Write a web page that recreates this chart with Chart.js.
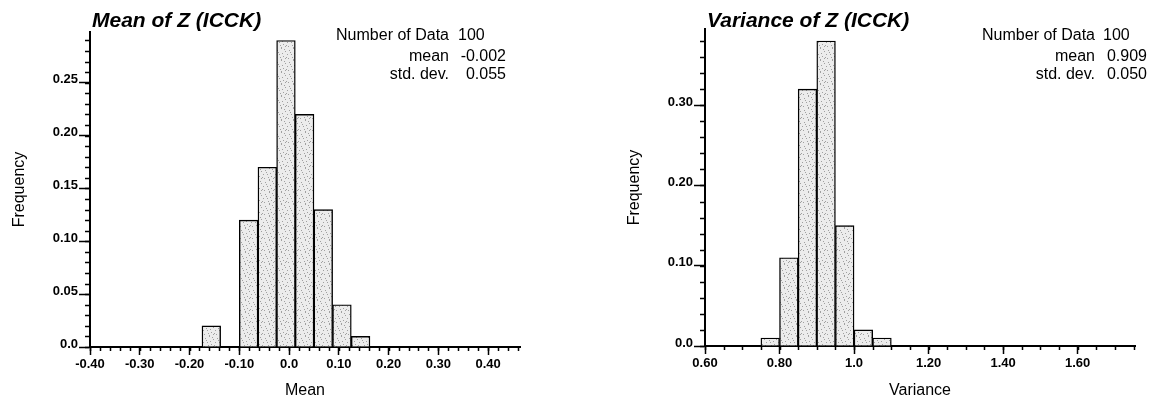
<!DOCTYPE html>
<html>
<head>
<meta charset="utf-8">
<script src="https://cdn.jsdelivr.net/npm/chart.js@4.4.1/dist/chart.umd.min.js"></script>
<style>
  body { margin: 0; background: #fff; }
  #wrap { position: relative; width: 1150px; height: 402px; }
  canvas { position: absolute; top: 0; }
  #meanChart { left: 0; }
  #varChart { left: 575px; }
</style>
</head>
<body>
<div id="wrap">
  <canvas id="meanChart" width="575" height="402"></canvas>
  <canvas id="varChart" width="575" height="402"></canvas>
</div>
<script>
// histogram of the mean of Z over the 100 realisations
const meanBinWidth = 0.0375;
const meanBinStarts = [-0.175, -0.1375, -0.1, -0.0625, -0.025, 0.0125, 0.05, 0.0875, 0.125];
const meanFreq = [0.02, 0.0, 0.12, 0.17, 0.29, 0.22, 0.13, 0.04, 0.01];
const meanXTicks = [-0.4, -0.3, -0.2, -0.1, 0, 0.1, 0.2, 0.3, 0.4];
const meanXLabels = ["-0.40", "-0.30", "-0.20", "-0.10", "0.0", "0.10", "0.20", "0.30", "0.40"];
const meanYTicks = [0, 0.05, 0.1, 0.15, 0.2, 0.25];
const meanYLabels = ["0.0", "0.05", "0.10", "0.15", "0.20", "0.25"];
const meanStatLabels = ["Number of Data", "mean", "std. dev."];
const meanStatValues = ["100", "-0.002", "0.055"];

// histogram of the variance of Z
const varBinWidth = 0.05;
const varBinStarts = [0.75, 0.8, 0.85, 0.9, 0.95, 1.0, 1.05];
const varFreq = [0.01, 0.11, 0.32, 0.38, 0.15, 0.02, 0.01];
const varXTicks = [0.6, 0.8, 1.0, 1.2, 1.4, 1.6];
const varXLabels = ["0.60", "0.80", "1.0", "1.20", "1.40", "1.60"];
const varYTicks = [0, 0.1, 0.2, 0.3];
const varYLabels = ["0.0", "0.10", "0.20", "0.30"];
const varStatLabels = ["Number of Data", "mean", "std. dev."];
const varStatValues = ["100", "0.909", "0.050"];

const FONT = '"Liberation Sans", Arial, Helvetica, sans-serif';
Chart.defaults.font.family = FONT;
Chart.defaults.color = "#000";

// speckled grey fill for the bars
function stipple() {
  const c = document.createElement("canvas");
  c.width = 12;
  c.height = 12;
  const g = c.getContext("2d");
  g.fillStyle = "#ececec";
  g.fillRect(0, 0, 12, 12);
  g.fillStyle = "#a0a0a0";
  const dots = [[1, 2], [5, 0], [9, 3], [3, 6], [7, 8], [11, 6], [0, 10], [5, 11], [9, 10], [2, 4], [8, 1], [6, 5], [10, 9], [4, 9]];
  dots.forEach(([x, y]) => g.fillRect(x, y, 1, 1));
  return g.createPattern(c, "repeat");
}

// minor ticks, bold title and the statistics block
const histDecor = {
  id: "histDecor",
  afterDraw(chart, args, opts) {
    const { ctx, chartArea: a } = chart;
    const xs = chart.scales.x;
    const ys = chart.scales.y;
    ctx.save();
    ctx.strokeStyle = "#000";
    ctx.lineWidth = 1.5;
    ctx.beginPath();
    for (let k = Math.ceil(xs.min / opts.minorX - 1e-6); k * opts.minorX <= xs.max + 1e-9; k++) {
      const px = Math.round(xs.getPixelForValue(k * opts.minorX)) + 0.5;
      ctx.moveTo(px, a.bottom);
      ctx.lineTo(px, a.bottom + 4);
    }
    for (let k = Math.ceil(ys.min / opts.minorY - 1e-6); k * opts.minorY <= ys.max + 1e-9; k++) {
      const py = Math.round(ys.getPixelForValue(k * opts.minorY)) + 0.5;
      ctx.moveTo(a.left - 5, py);
      ctx.lineTo(a.left, py);
    }
    ctx.stroke();

    ctx.fillStyle = "#000";
    ctx.font = "italic bold 21px " + FONT;
    ctx.textAlign = "left";
    ctx.textBaseline = "alphabetic";
    ctx.fillText(opts.title, a.left + 2, 27);

    ctx.font = "16px " + FONT;
    opts.labels.forEach((lab, i) => {
      const y = opts.rows[i];
      ctx.textAlign = "right";
      ctx.fillText(lab, a.right + opts.labelDx, y);
      if (i === 0) {
        ctx.textAlign = "left";
        ctx.fillText(opts.values[i], a.right + opts.valueLeftDx, y);
      } else {
        ctx.textAlign = "right";
        ctx.fillText(opts.values[i], a.right + opts.valueRightDx, y);
      }
    });
    ctx.restore();
  }
};

function histogram(id, cfg) {
  const data = cfg.starts.map((s, i) => ({ x: s + cfg.width / 2, y: cfg.freq[i] }));
  return new Chart(document.getElementById(id), {
    type: "bar",
    data: {
      datasets: [{
        data: data,
        backgroundColor: stipple(),
        borderColor: "#000",
        borderWidth: 1.4,
        barPercentage: 1,
        categoryPercentage: 1
      }]
    },
    options: {
      responsive: false,
      animation: false,
      events: [],
      layout: { padding: cfg.padding },
      plugins: {
        legend: { display: false },
        tooltip: { enabled: false },
        histDecor: {
          title: cfg.title,
          labels: cfg.statLabels,
          values: cfg.statValues,
          rows: [40, 61, 79],
          minorX: cfg.minorX,
          minorY: cfg.minorY,
          labelDx: cfg.labelDx,
          valueLeftDx: cfg.valueLeftDx,
          valueRightDx: cfg.valueRightDx
        }
      },
      scales: {
        x: {
          type: "linear",
          min: cfg.xMin,
          max: cfg.xMax,
          offset: false,
          afterFit: s => { s.height = cfg.xHeight; },
          afterBuildTicks: s => { s.ticks = cfg.xTicks.map(v => ({ value: v })); },
          ticks: {
            callback: (v, i) => cfg.xLabels[i],
            font: { size: 13, weight: "bold" },
            maxRotation: 0,
            autoSkip: false,
            padding: 2
          },
          grid: { offset: false, drawOnChartArea: false, tickLength: 8, tickWidth: 1.5, tickColor: "#000" },
          border: { color: "#000", width: 2 },
          title: { display: true, text: cfg.xTitle, font: { size: 16 }, padding: { top: 0, bottom: 2 } }
        },
        y: {
          min: 0,
          max: cfg.yMax,
          afterFit: s => { s.width = 90; },
          afterBuildTicks: s => { s.ticks = cfg.yTicks.map(v => ({ value: v })); },
          ticks: {
            callback: (v, i) => cfg.yLabels[i],
            font: { size: 13, weight: "bold" },
            labelOffset: -3,
            padding: 1,
            autoSkip: false
          },
          grid: { drawOnChartArea: false, tickLength: 11, tickWidth: 1.5, tickColor: "#000" },
          border: { color: "#000", width: 2 },
          title: { display: true, text: "Frequency", font: { size: 16 }, padding: { top: 10, bottom: 0 } }
        }
      }
    },
    plugins: [histDecor]
  });
}

histogram("meanChart", {
  starts: meanBinStarts, width: meanBinWidth, freq: meanFreq,
  xTicks: meanXTicks, xLabels: meanXLabels, yTicks: meanYTicks, yLabels: meanYLabels,
  xMin: -0.4, xMax: 0.464, yMax: 0.298, minorX: 0.02, minorY: 0.01,
  xTitle: "Mean", title: "Mean of Z (ICCK)",
  statLabels: meanStatLabels, statValues: meanStatValues,
  labelDx: -71, valueLeftDx: -62, valueRightDx: -14,
  padding: { left: 0, top: 32, right: 55, bottom: 0 }, xHeight: 55
});

histogram("varChart", {
  starts: varBinStarts, width: varBinWidth, freq: varFreq,
  xTicks: varXTicks, xLabels: varXLabels, yTicks: varYTicks, yLabels: varYLabels,
  xMin: 0.6, xMax: 1.754, yMax: 0.395, minorX: 0.05, minorY: 0.02,
  xTitle: "Variance", title: "Variance of Z (ICCK)",
  statLabels: varStatLabels, statValues: varStatValues,
  labelDx: -40, valueLeftDx: -32, valueRightDx: 12,
  padding: { left: 40, top: 29, right: 15, bottom: 0 }, xHeight: 56
});
</script>
</body>
</html>
